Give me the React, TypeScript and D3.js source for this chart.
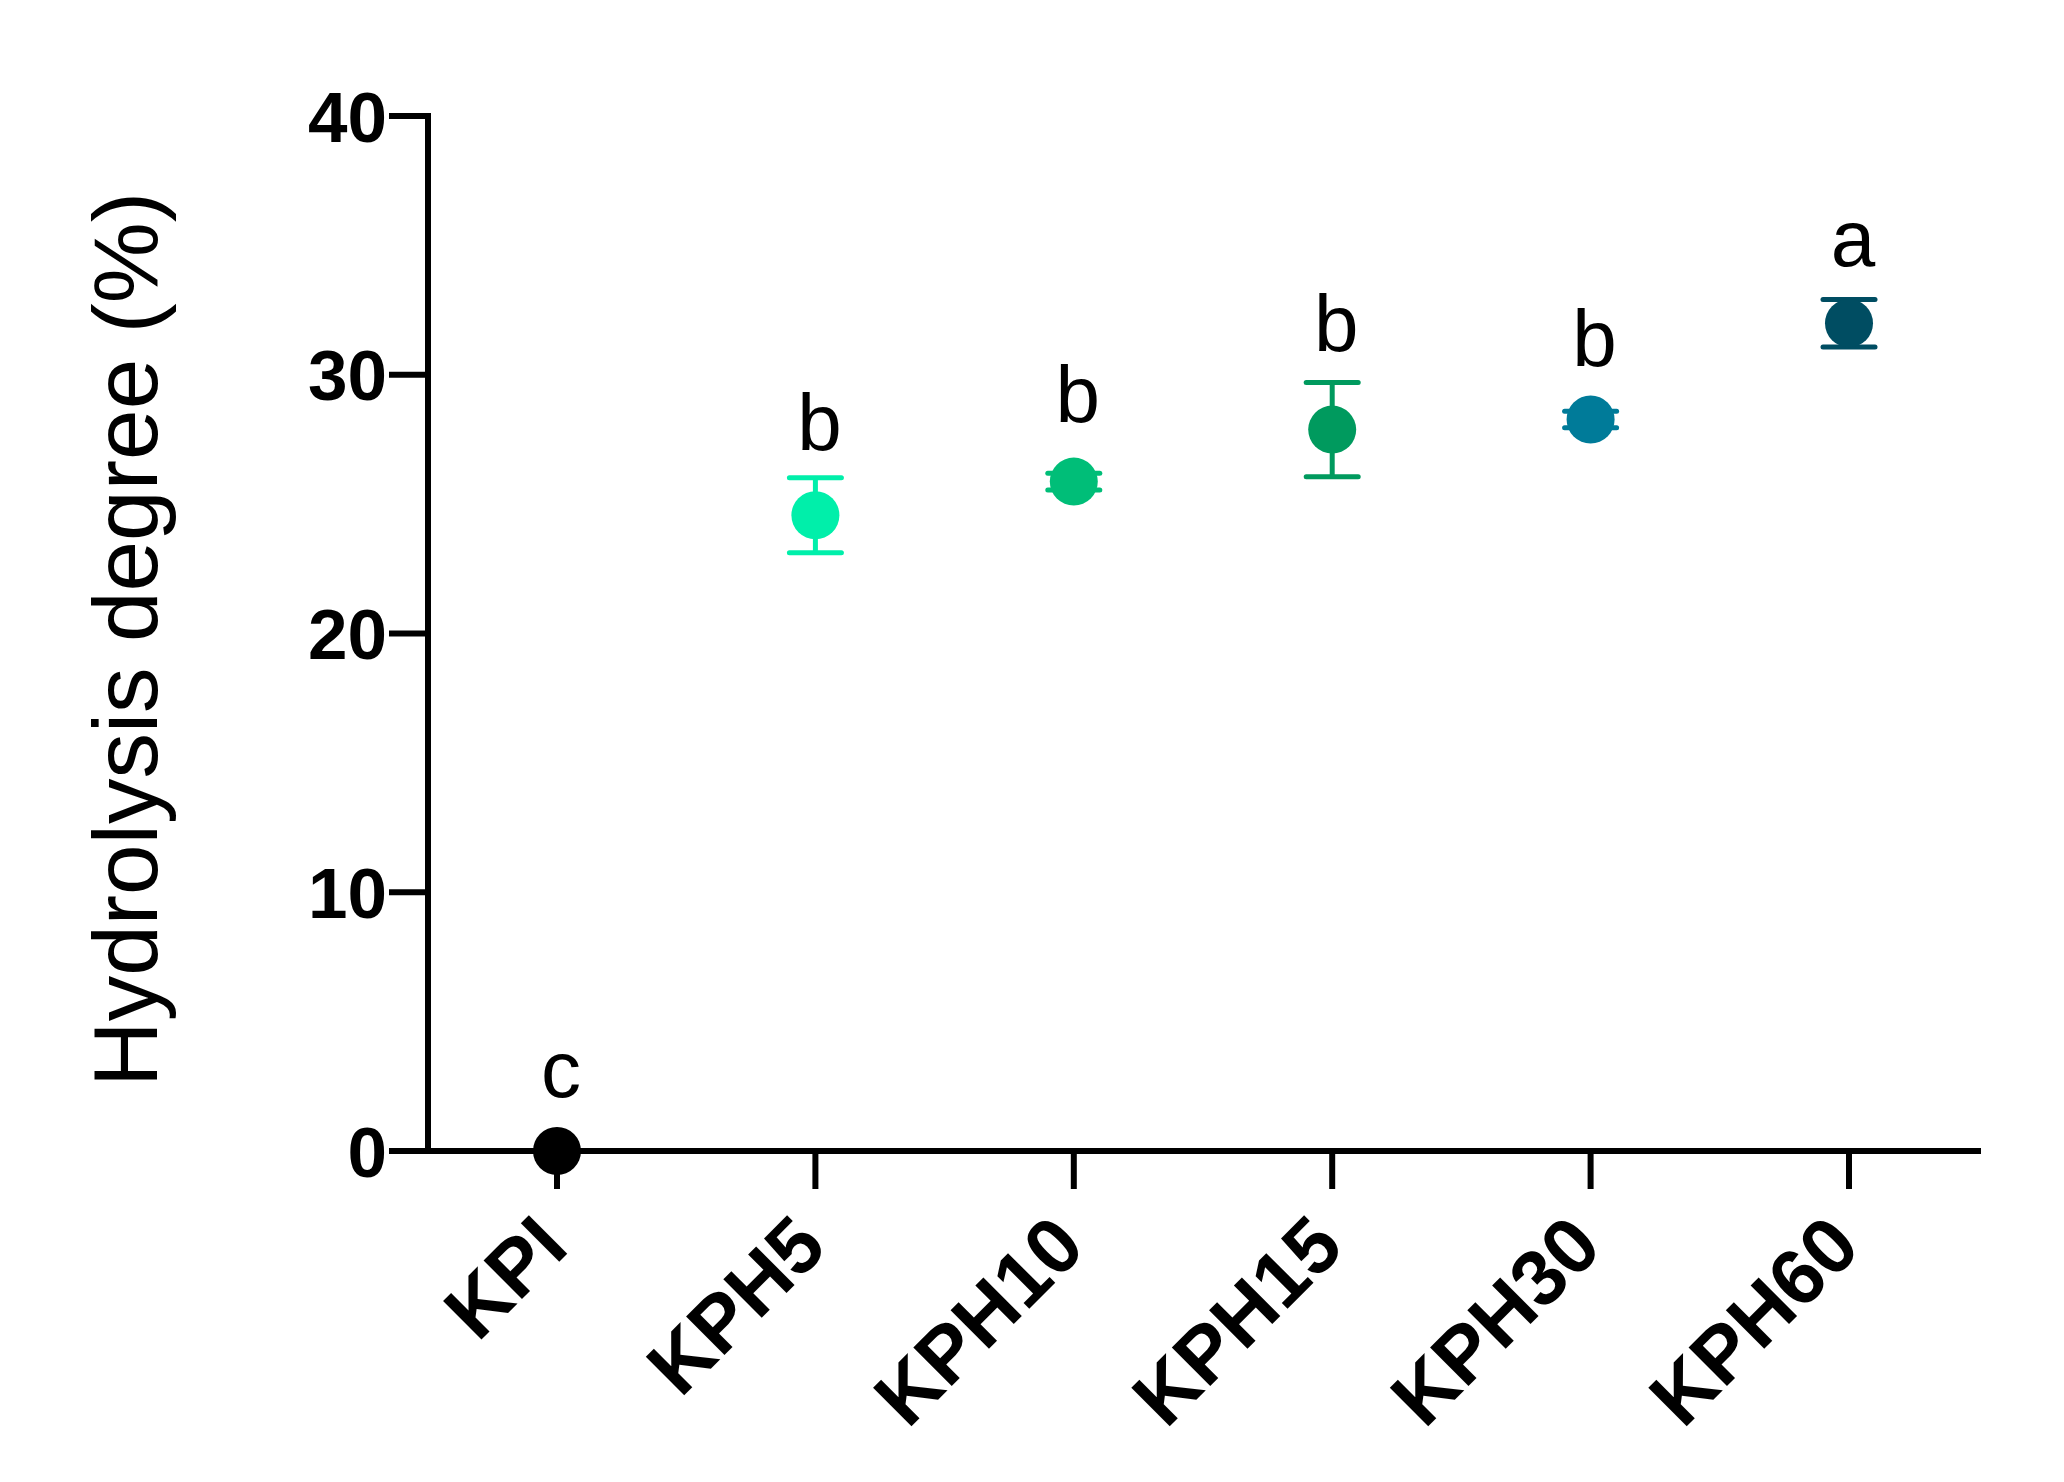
import React from 'react';
import * as d3 from 'd3';

const categories = ['KPI', 'KPH5', 'KPH10', 'KPH15', 'KPH30', 'KPH60'];
const means = [0, 24.57, 25.87, 27.88, 28.27, 31.99];
const errors = [0, 1.45, 0.32, 1.82, 0.32, 0.92];
const letters = ['c', 'b', 'b', 'b', 'b', 'a'];
// letter baselines, in axis units
const letterY = [2.1, 27.09, 28.19, 30.9, 30.34, 34.2];
const colors = ['#000000', '#00EFAA', '#00BE78', '#009A5E', '#007B99', '#004D62'];
const yTicks = [0, 10, 20, 30, 40];
const yLabel = 'Hydrolysis degree (%)';

const font = 'Arial, "Liberation Sans", sans-serif';

const App = () => {
    const width = 2064;
    const height = 1482;
    const axisX = 428;
    const axisEnd = 1981;

    const xScale = d3.scalePoint<string>().domain(categories).range([557, 1849]);
    const yScale = d3.scaleLinear().domain([0, 40]).range([1151, 116]);
    const y0 = yScale(0);

    return (
        <svg
            width={width}
            height={height}
            viewBox={`0 0 ${width} ${height}`}
            style={{ position: 'absolute', left: 0, top: 0, background: '#fff' }}
        >
            {/* y axis */}
            <line x1={axisX} y1={yScale(40) - 3} x2={axisX} y2={y0 + 3} stroke="#000" strokeWidth={6} />
            {yTicks.map(t => (
                <g key={'yt' + t}>
                    <line x1={axisX - 39} y1={yScale(t)} x2={axisX} y2={yScale(t)} stroke="#000" strokeWidth={6} />
                    <text
                        x={axisX - 41}
                        y={yScale(t)}
                        dy="0.36em"
                        textAnchor="end"
                        fontFamily={font}
                        fontWeight="bold"
                        fontSize={71}
                    >
                        {t}
                    </text>
                </g>
            ))}
            <text
                transform={`translate(157, ${(yScale(0) + yScale(40)) / 2 + 6}) rotate(-90)`}
                textAnchor="middle"
                fontFamily={font}
                fontSize={91}
            >
                {yLabel}
            </text>

            {/* x axis */}
            <line x1={axisX - 3} y1={y0} x2={axisEnd} y2={y0} stroke="#000" strokeWidth={6} />
            {categories.map(c => (
                <g key={'xt' + c}>
                    <line x1={xScale(c)} y1={y0} x2={xScale(c)} y2={y0 + 38} stroke="#000" strokeWidth={6} />
                    <text
                        transform={`translate(${(xScale(c) as number) + 14}, 1250) rotate(-45)`}
                        textAnchor="end"
                        fontFamily={font}
                        fontWeight="bold"
                        fontSize={79}
                    >
                        {c}
                    </text>
                </g>
            ))}

            {/* points */}
            {categories.map((c, i) => {
                const cx = xScale(c) as number;
                const top = yScale(means[i] + errors[i]);
                const bot = yScale(means[i] - errors[i]);
                return (
                    <g key={'pt' + c}>
                        {errors[i] > 0 && (
                            <g stroke={colors[i]} strokeWidth={5}>
                                <line x1={cx} y1={top} x2={cx} y2={bot} />
                                <line x1={cx - 26} y1={top} x2={cx + 26} y2={top} strokeLinecap="round" />
                                <line x1={cx - 26} y1={bot} x2={cx + 26} y2={bot} strokeLinecap="round" />
                            </g>
                        )}
                        <circle cx={cx} cy={yScale(means[i])} r={24} fill={colors[i]} />
                        <text
                            x={cx + 4}
                            y={yScale(letterY[i])}
                            textAnchor="middle"
                            fontFamily={font}
                            fontSize={80}
                        >
                            {letters[i]}
                        </text>
                    </g>
                );
            })}
        </svg>
    );
};

export default App;
